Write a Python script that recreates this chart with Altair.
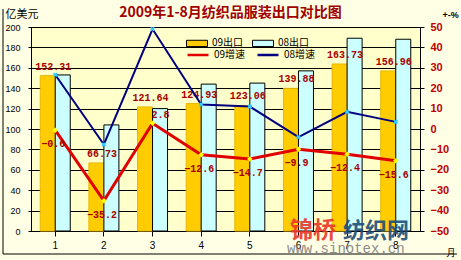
import altair as alt
import pandas as pd

months = ["1", "2", "3", "4", "5", "6", "7", "8"]
export_09 = [152.31, 66.73, 121.64, 124.93, 123.06, 139.88, 163.73, 156.96]
export_08 = [153, 104, 120, 144, 145, 157, 189, 188]
growth_09 = [-0.6, -35.2, 2.8, -12.6, -14.7, -9.9, -12.4, -15.6]
growth_08 = [26.6, -7.6, 49, 12, 11, -4, 8.4, 3.5]
bar_series = ["09出口", "08出口"]
line_series = ["09增速", "08增速"]

bars_df = pd.DataFrame({
    "month": months * 2,
    "series": [bar_series[0]] * 8 + [bar_series[1]] * 8,
    "value": export_09 + export_08,
})
lines_df = pd.DataFrame({
    "month": months * 2,
    "series": [line_series[0]] * 8 + [line_series[1]] * 8,
    "growth": growth_09 + growth_08,
})

LBL = "Liberation Mono"
DARKRED = "#A80000"

xenc = alt.X("month:O", sort=months,
             scale=alt.Scale(paddingInner=0.383, paddingOuter=0.19),
             axis=alt.Axis(title="月", titleAngle=0, titleX=419, titleY=16,
                           titleFontSize=10, titleFontWeight="normal", titleColor="black",
                           labelAngle=0, labelFontSize=10, labelColor="black",
                           labelFont="Liberation Sans",
                           tickColor="black", tickSize=5, domainColor="black",
                           labelPadding=4))

legend_common = dict(orient="none", direction="horizontal", columns=2, title=None,
                     labelFontSize=10, labelColor="black", labelOffset=4,
                     columnPadding=6, symbolSize=441, labelFont="Noto Sans CJK SC")

yleft_axis = alt.Axis(values=list(range(0, 201, 20)), title="亿美元",
                      titleAngle=0, titleX=-26, titleY=-13, titleAlign="left",
                      titleBaseline="middle", titleFontWeight="normal",
                      titleFontSize=11, titleColor="black",
                      titleFont="Noto Sans CJK SC", labelOverlap=False,
                      grid=True, gridColor="black", gridOpacity=1, gridWidth=1,
                      labelFontSize=9, labelColor="black", labelFont="Liberation Sans",
                      tickSize=3, tickColor="black", labelPadding=8,
                      domainColor="black")

bars = alt.Chart(bars_df).mark_bar(strokeWidth=1).encode(
    x=xenc,
    xOffset=alt.XOffset("series:N", sort=bar_series,
                        scale=alt.Scale(paddingInner=0, paddingOuter=0)),
    y=alt.Y("value:Q", scale=alt.Scale(domain=[0, 200], nice=False), axis=yleft_axis),
    color=alt.Color("series:N",
                    scale=alt.Scale(domain=bar_series, range=["#FFCC00", "#CCFFFF"]),
                    legend=alt.Legend(legendX=155, legendY=5,
                                      symbolType="M-1,-0.3H1V0.3H-1Z",
                                      symbolStrokeColor="black", symbolStrokeWidth=1,
                                      symbolOpacity=1, **legend_common)),
    stroke=alt.condition("datum.series == '08出口'", alt.value("black"), alt.value("#E8B800")),
)

value_labels = alt.Chart(bars_df).transform_filter(
    "datum.series == '09出口'"
).mark_text(font=LBL, fontWeight="bold", fontSize=10, color=DARKRED, dy=-9, dx=-2).encode(
    x=xenc,
    y=alt.Y("value:Q", axis=yleft_axis),
    text=alt.Text("value:Q", format=".2f"),
)

left_layer = alt.layer(bars, value_labels)

yright_axis = alt.Axis(orient="right", values=list(range(-50, 51, 10)),
                       title="+-%", titleAngle=0, titleX=22, titleY=-13,
                       titleAlign="left", titleBaseline="middle",
                       titleFontSize=9, titleFontWeight="bold", titleColor="black",
                       grid=False, labelColor="#C00000", labelFontWeight="bold",
                       labelFontSize=11, labelFont="Liberation Sans",
                       labelOverlap=False,
                       tickSize=4, tickColor="black", labelPadding=6,
                       domainColor="black")
yright = alt.Y("growth:Q", scale=alt.Scale(domain=[-50, 50], nice=False), axis=yright_axis)

lines = alt.Chart(lines_df).mark_line().encode(
    x=xenc,
    y=yright,
    stroke=alt.Stroke("series:N",
                      scale=alt.Scale(domain=line_series, range=["#E00000", "#000080"]),
                      legend=alt.Legend(legendX=155, legendY=16, symbolType="stroke",
                                        symbolStrokeWidth=2.5, **legend_common)),
    strokeWidth=alt.condition("datum.series == '09增速'", alt.value(3), alt.value(2)),
)

pts09 = alt.Chart(lines_df).transform_filter("datum.series == '09增速'").mark_point(
    shape="diamond", filled=True, size=30, color="#FFFF00", opacity=1
).encode(x=xenc, y=yright)

pts08 = alt.Chart(lines_df).transform_filter("datum.series == '08增速'").mark_point(
    shape="cross", filled=True, size=22, color="#33CCFF", angle=45, opacity=1
).encode(x=xenc, y=yright)

g_neg = alt.Chart(lines_df).transform_filter(
    "datum.series == '09增速' && datum.growth < 0"
).mark_text(font=LBL, fontWeight="bold", fontSize=10, color=DARKRED, dy=14, dx=-2).encode(
    x=xenc, y=yright, text=alt.Text("growth:Q", format=".1f"))

g_pos = alt.Chart(lines_df).transform_filter(
    "datum.series == '09增速' && datum.growth >= 0"
).mark_text(font=LBL, fontWeight="bold", fontSize=10, color=DARKRED, dy=-8, dx=8).encode(
    x=xenc, y=yright, text=alt.Text("growth:Q", format=".1f"))

right_layer = alt.layer(lines, pts09, pts08, g_neg, g_pos)

one = pd.DataFrame({"a": [0]})
frame_left = alt.Chart(one).mark_rule(color="black", strokeWidth=1).encode(
    x=alt.value(-28), y=alt.value(-18), y2=alt.value(227))
frame_bottom = alt.Chart(one).mark_rule(color="black", strokeWidth=1).encode(
    x=alt.value(-28), x2=alt.value(426), y=alt.value(227))

wm = pd.DataFrame({"t": ["锦桥", "纺织网", "www.sinotex.cn"]})
wm1 = alt.Chart(wm).transform_filter("datum.t == '锦桥'").mark_text(
    font="Noto Sans CJK SC", fontWeight="bold", fontSize=23, color="#E83828",
    align="left", baseline="middle", opacity=0.9
).encode(x=alt.value(259), y=alt.value(204), text="t:N")
wm2 = alt.Chart(wm).transform_filter("datum.t == '纺织网'").mark_text(
    font="Noto Sans CJK SC", fontWeight="bold", fontSize=22, color="#1F4E79",
    align="left", baseline="middle", opacity=0.9
).encode(x=alt.value(312), y=alt.value(204), text="t:N")
wm3 = alt.Chart(wm).transform_filter("datum.t == 'www.sinotex.cn'").mark_text(
    font="Liberation Mono", fontSize=14, color="#808080",
    align="left", baseline="middle", opacity=0.9
).encode(x=alt.value(256), y=alt.value(222), text="t:N")

chart = alt.layer(left_layer, right_layer, frame_left, frame_bottom, wm1, wm2, wm3).resolve_scale(
    y="independent"
).properties(
    width=389, height=204,
    autosize=alt.AutoSizeParams(type="none"),
    padding={"left": 31, "top": 27, "right": 41, "bottom": 29},
    background="#FFFFE6",
    title=alt.TitleParams("2009年1-8月纺织品服装出口对比图", fontSize=14,
                          font="Noto Sans CJK SC", fontWeight="bold", color="#A00000",
                          anchor="middle", dx=5, offset=-12),
).configure_view(
    fill="#FFFFCC", stroke="black", strokeWidth=1
).configure_axis(labelOverlap=False)

chart.save("out.html", embed_options={"renderer": "svg", "actions": False})
